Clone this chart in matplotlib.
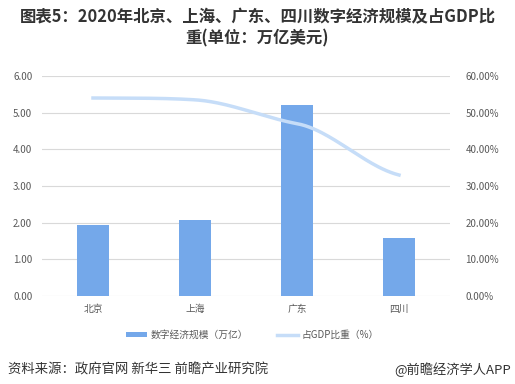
import matplotlib.pyplot as plt
import numpy as np

plt.rcParams['font.family'] = ['Noto Sans CJK SC', 'DejaVu Sans']

# data
regions = ["北京", "上海", "广东", "四川"]
scale = [1.94, 2.06, 5.21, 1.58]          # 万亿
gdp_share = [54.0, 53.5, 47.0, 33.0]      # %

bar_color = "#74A8EA"
line_color = "#C6DDF8"

fig = plt.figure(figsize=(5.15, 3.84), dpi=100)
ax = fig.add_axes([42 / 515, 1 - 296 / 384, 408 / 515, 220 / 384])
ax2 = ax.twinx()

x = np.arange(len(regions))
ax.bar(x, scale, width=0.31, color=bar_color, zorder=3, label="数字经济规模（万亿）")

# lightly smoothed line (Excel style), low-tension cardinal spline
pts = np.array(gdp_share)
n = len(pts)
tang = np.zeros(n)
for i in range(n):
    lo, hi = max(i - 1, 0), min(i + 1, n - 1)
    tang[i] = 0.5 * (pts[hi] - pts[lo]) / (hi - lo)
xs, ys = [], []
for i in range(n - 1):
    for h in np.linspace(0, 1, 50):
        xs.append(i + h)
        ys.append((2*h**3 - 3*h**2 + 1)*pts[i] + (h**3 - 2*h**2 + h)*tang[i]
                  + (-2*h**3 + 3*h**2)*pts[i + 1] + (h**3 - h**2)*tang[i + 1])
ax2.plot(xs, ys, color=line_color, lw=2.5, zorder=4, label="占GDP比重（%）")

ax.set_xlim(-0.5, len(regions) - 0.5)
ax.set_ylim(0, 6)
ax2.set_ylim(0, 60)
ax.set_yticks(np.arange(0, 6.01, 1))
ax.set_yticklabels([f"{v:.2f}" for v in np.arange(0, 6.01, 1)])
ax2.set_yticks(np.arange(0, 60.1, 10))
ax2.set_yticklabels([f"{v:.2f}%" for v in np.arange(0, 60.1, 10)])
ax.set_xticks(x)
ax.set_xticklabels(regions)

for a in (ax, ax2):
    for s in a.spines.values():
        s.set_visible(False)
    a.tick_params(length=0, labelsize=7, colors="#595959")
ax.tick_params(axis="y", pad=7)
ax2.tick_params(axis="y", pad=11)
ax.tick_params(axis="x", pad=6)
ax.grid(axis="y", color="#D9D9D9", lw=0.8, zorder=0)
ax.set_axisbelow(True)

h1, l1 = ax.get_legend_handles_labels()
h2, l2 = ax2.get_legend_handles_labels()
fig.legend(h1 + h2, l1 + l2, loc="center", bbox_to_anchor=(0.49, 1 - 335 / 384),
           ncol=2, frameon=False, fontsize=7, labelcolor="#595959",
           handlelength=2.2, handleheight=0.5, columnspacing=3.0, handletextpad=0.3)

fig.text(0.5, 1 - 17 / 384, "图表5：2020年北京、上海、广东、四川数字经济规模及占GDP比",
         ha="center", va="center", fontsize=11.8, fontweight="bold", color="#333333")
fig.text(0.5, 1 - 38 / 384, "重(单位：万亿美元)",
         ha="center", va="center", fontsize=11.8, fontweight="bold", color="#333333")

fig.text(8 / 515, 1 - 370 / 384, "资料来源：政府官网 新华三 前瞻产业研究院",
         ha="left", va="center", fontsize=9.6, color="#333333")
fig.text(511 / 515, 1 - 370 / 384, "@前瞻经济学人APP",
         ha="right", va="center", fontsize=9.5, color="#333333")

fig.savefig("out.png", dpi=100)
